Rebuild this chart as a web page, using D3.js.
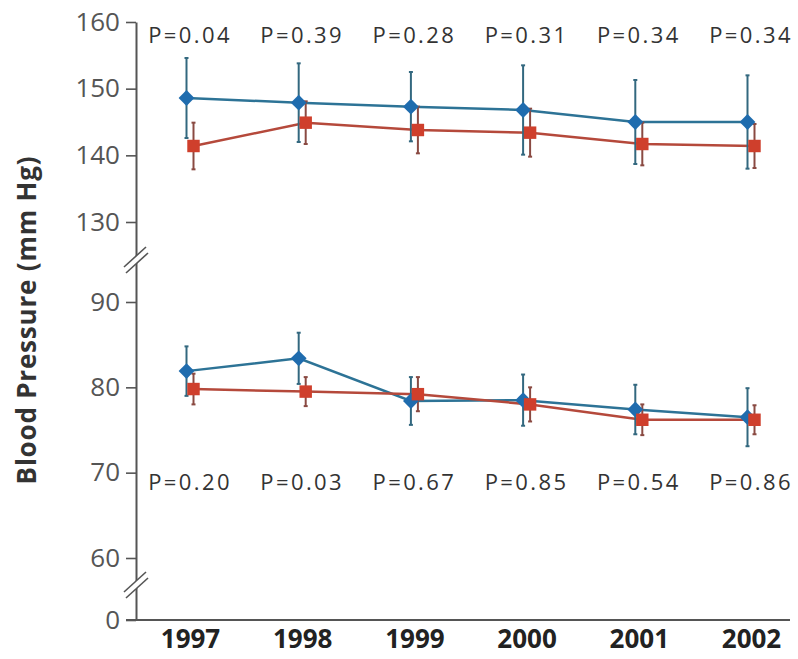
<!DOCTYPE html>
<html>
<head>
<meta charset="utf-8">
<script src="https://cdn.jsdelivr.net/npm/d3@7"></script>
<style>
  body { margin: 0; background: #fff; }
  text { font-family: "Open Sans", "Noto Sans", sans-serif; }
</style>
</head>
<body>
<div id="chart"></div>
<script>
// data
let years = [1997, 1998, 1999, 2000, 2001, 2002];
let sysBlue = [148.6, 147.9, 147.3, 146.8, 145.0, 145.0];
let sysBlueErr = [6.0, 5.9, 5.2, 6.7, 6.3, 7.0];
let sysRed = [141.4, 144.9, 143.8, 143.4, 141.7, 141.4];
let sysRedErr = [3.5, 3.2, 3.5, 3.6, 3.2, 3.3];
let diaBlue = [81.9, 83.4, 78.4, 78.5, 77.4, 76.5];
let diaBlueErr = [2.9, 3.0, 2.8, 3.0, 2.9, 3.4];
let diaRed = [79.8, 79.5, 79.2, 78.0, 76.2, 76.2];
let diaRedErr = [1.8, 1.7, 2.0, 2.0, 1.8, 1.7];
let pSys = ["0.04", "0.39", "0.28", "0.31", "0.34", "0.34"];
let pDia = ["0.20", "0.03", "0.67", "0.85", "0.54", "0.86"];
let yTicks = [0, 60, 70, 80, 90, 130, 140, 150, 160];

let width = 798, height = 659;
let mLeft = 136, mRight = 790, mTop = 22, mBottom = 620;

let svg = d3.select("#chart").append("svg")
  .attr("width", width)
  .attr("height", height);

// broken y axis: piecewise linear scale
let y = d3.scaleLinear()
  .domain([0, 60, 90, 130, 160])
  .range([mBottom, 558, 302, 222, mTop]);

let x = d3.scalePoint()
  .domain(years)
  .range([190, 751]);

let blueCol = "#1f6cae", blueLine = "#2d7396", blueBar = "#33687f";
let redCol = "#cf3f2c", redLine = "#b5493b", redBar = "#8a4a42";

// y axis
let yAxis = svg.append("g")
  .attr("transform", `translate(${mLeft},0)`)
  .call(d3.axisLeft(y).tickValues(yTicks).tickSize(10).tickSizeOuter(0).tickPadding(6));
yAxis.select(".domain").attr("stroke", "#555").attr("stroke-width", 2);
yAxis.selectAll(".tick line").attr("stroke", "#555").attr("stroke-width", 1.6);
yAxis.selectAll(".tick text")
  .attr("font-size", 26)
  .attr("fill", "#555")
  .style("font-family", "'Open Sans', sans-serif");

// x axis line + year labels
svg.append("line")
  .attr("x1", mLeft - 10).attr("x2", mRight)
  .attr("y1", mBottom).attr("y2", mBottom)
  .attr("stroke", "#555").attr("stroke-width", 2);

let xAxis = svg.append("g")
  .attr("transform", `translate(0,${mBottom})`)
  .call(d3.axisBottom(x).tickSize(0).tickPadding(10));
xAxis.select(".domain").remove();
xAxis.selectAll(".tick text")
  .attr("font-size", 26)
  .attr("font-weight", "bold")
  .attr("fill", "#222")
  .style("font-family", "'Open Sans', sans-serif");

// axis break marks
function drawBreak(yc) {
  let g = svg.append("g").attr("transform", `translate(${mLeft},${yc})`);
  g.append("polygon")
    .attr("points", "-12,7 10,-13 12,-7 -10,13")
    .attr("fill", "#fff");
  g.append("line").attr("x1", -12).attr("y1", 7).attr("x2", 10).attr("y2", -13)
    .attr("stroke", "#555").attr("stroke-width", 1.6);
  g.append("line").attr("x1", -10).attr("y1", 13).attr("x2", 12).attr("y2", -7)
    .attr("stroke", "#555").attr("stroke-width", 1.6);
}
drawBreak((y(130) + y(90)) / 2 - 2);
drawBreak((y(60) + y(0)) / 2 - 4);

// y axis title
svg.append("text")
  .attr("transform", `translate(36,320) rotate(-90)`)
  .attr("text-anchor", "middle")
  .attr("font-size", 26)
  .attr("letter-spacing", 0.8)
  .attr("font-weight", "bold")
  .attr("fill", "#333")
  .text("Blood Pressure (mm Hg)");

let line = d3.line()
  .x(d => d.x)
  .y(d => y(d.v));

function makeSeries(vals, errs, off, lineCol, barCol, markCol, shape) {
  let pts = vals.map((v, i) => ({x: x(years[i]) + off, v: v, e: errs[i]}));
  return {pts, lineCol, barCol, markCol, shape};
}

let series = [
  makeSeries(sysBlue, sysBlueErr, -3.5, blueLine, blueBar, blueCol, "diamond"),
  makeSeries(sysRed, sysRedErr, 3.5, redLine, redBar, redCol, "square"),
  makeSeries(diaBlue, diaBlueErr, -3.5, blueLine, blueBar, blueCol, "diamond"),
  makeSeries(diaRed, diaRedErr, 3.5, redLine, redBar, redCol, "square")
];

// connecting lines
series.forEach(s => {
  svg.append("path")
    .datum(s.pts)
    .attr("d", line)
    .attr("fill", "none")
    .attr("stroke", s.lineCol)
    .attr("stroke-width", 2.5);
});

// error bars
series.forEach(s => {
  s.pts.forEach(p => {
    svg.append("line")
      .attr("x1", p.x).attr("x2", p.x)
      .attr("y1", y(p.v + p.e)).attr("y2", y(p.v - p.e))
      .attr("stroke", s.barCol).attr("stroke-width", 2);
    [p.v + p.e, p.v - p.e].forEach(v =>
      svg.append("line")
        .attr("x1", p.x - 2).attr("x2", p.x + 2)
        .attr("y1", y(v)).attr("y2", y(v))
        .attr("stroke", s.barCol).attr("stroke-width", 2)
    );
  });
});

// markers
series.forEach(s => {
  s.pts.forEach(p => {
    if (s.shape == "diamond") {
      svg.append("path")
        .attr("d", d3.symbol().type(d3.symbolSquare).size(125)())
        .attr("transform", `translate(${p.x},${y(p.v)}) rotate(45)`)
        .attr("fill", s.markCol);
    } else {
      svg.append("path")
        .attr("d", d3.symbol().type(d3.symbolSquare).size(155)())
        .attr("transform", `translate(${p.x},${y(p.v)})`)
        .attr("fill", s.markCol);
    }
  });
});

// P values
svg.append("g").selectAll("text")
  .data(pSys)
  .join("text")
  .attr("x", (d, i) => x(years[i]))
  .attr("y", 43)
  .attr("text-anchor", "middle")
  .attr("font-size", 22)
  .attr("letter-spacing", 2.4)
  .attr("fill", "#333")
  .text(d => "P=" + d);

svg.append("g").selectAll("text")
  .data(pDia)
  .join("text")
  .attr("x", (d, i) => x(years[i]))
  .attr("y", 490)
  .attr("text-anchor", "middle")
  .attr("font-size", 22)
  .attr("letter-spacing", 2.4)
  .attr("fill", "#333")
  .text(d => "P=" + d);
</script>
</body>
</html>
